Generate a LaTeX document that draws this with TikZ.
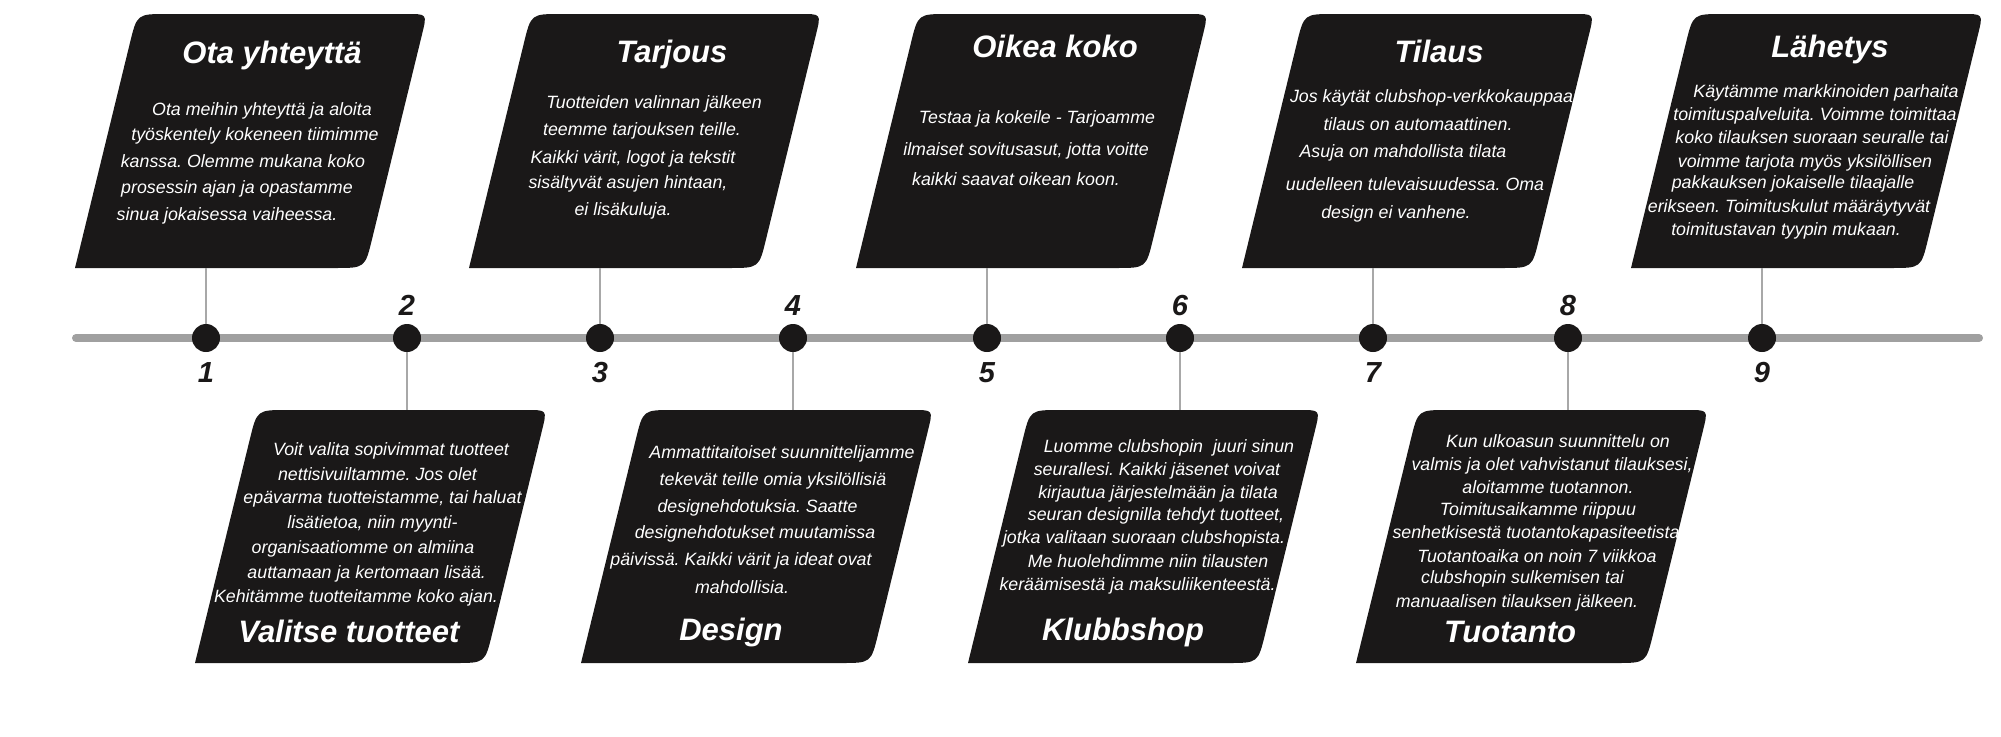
\documentclass[tikz,border=0pt]{standalone}
\usepackage{fontspec}
\setmainfont{Liberation Sans}
\usetikzlibrary{calc}
\frenchspacing
\definecolor{boxblack}{HTML}{1A1818}
\definecolor{linegray}{HTML}{A0A0A0}
\definecolor{conngray}{HTML}{A8A8A8}
\tikzset{
  body/.style={text=white, font=\fontsize{17.8}{20}\selectfont\itshape, inner sep=0pt, anchor=base},
  ttl/.style={text=white, font=\fontsize{31}{34}\selectfont\bfseries\itshape, inner sep=0pt, anchor=base},
  num/.style={text=boxblack, font=\fontsize{29}{32}\selectfont\bfseries\itshape, inner sep=0pt, anchor=base},
  dot/.style={circle, fill=boxblack, minimum size=28pt, inner sep=0pt},
  conn/.style={draw=conngray, line width=2.2pt},
  tline/.style={draw=linegray, line width=8pt, line cap=round},
  boxfill/.style={fill=boxblack},
}
\newcommand\drawstepbox[5]{%
  \coordinate (#1tl) at (#2);
  \coordinate (#1tr) at (#3);
  \coordinate (#1br) at (#4);
  \coordinate (#1bl) at (#5);
  \fill[boxfill] (#1bl) -- ($(#1tl)!30pt!(#1bl)$) .. controls (#1tl) .. ($(#1tl)!30pt!(#1tr)$)
     -- ($(#1tr)!20pt!(#1tl)$) .. controls (#1tr) .. ($(#1tr)!20pt!(#1br)$)
     -- ($(#1br)!30pt!(#1tr)$) .. controls (#1br) .. ($(#1br)!30pt!(#1bl)$) -- cycle;
}
\newcommand\topstepbox[2]{\drawstepbox{#1}{#2-69,14}{#2+221,14}{#2+159,268}{#2-131,268}\coordinate (#1a) at (#2,268);}
\newcommand\botstepbox[2]{\drawstepbox{#1}{#2-150,410}{#2+140,410}{#2+78,663}{#2-212,663}\coordinate (#1a) at (#2,410);}
\newcommand\txtline[4]{\node[body] (#1) at (#2,#3) {#4};}
\newcommand\ttlline[4]{\node[ttl] (#1) at (#2,#3) {#4};}

\begin{document}
\begin{tikzpicture}[x=1pt,y=-1pt]
\useasboundingbox (0,0) rectangle (2001,736);

% timeline
\coordinate (tlS) at (76,338);
\coordinate (tlE) at (1979,338);
\draw[tline] (tlS) -- (tlE);

% boxes
\topstepbox{b1}{206}
\topstepbox{b3}{600}
\topstepbox{b5}{987}
\topstepbox{b7}{1373}
\topstepbox{b9}{1762}
\botstepbox{b2}{407}
\botstepbox{b4}{793}
\botstepbox{b6}{1180}
\botstepbox{b8}{1568}

% dots
\node[dot] (d1) at (206,338) {};
\node[dot] (d2) at (407,338) {};
\node[dot] (d3) at (600,338) {};
\node[dot] (d4) at (793,338) {};
\node[dot] (d5) at (987,338) {};
\node[dot] (d6) at (1180,338) {};
\node[dot] (d7) at (1373,338) {};
\node[dot] (d8) at (1568,338) {};
\node[dot] (d9) at (1762,338) {};

% connectors
\draw[conn] (b1a) -- (d1);
\draw[conn] (b3a) -- (d3);
\draw[conn] (b5a) -- (d5);
\draw[conn] (b7a) -- (d7);
\draw[conn] (b9a) -- (d9);
\draw[conn] (d2) -- (b2a);
\draw[conn] (d4) -- (b4a);
\draw[conn] (d6) -- (b6a);
\draw[conn] (d8) -- (b8a);

% numbers
\node[num] (n1) at (206,382) {1};
\node[num] (n2) at (407,315) {2};
\node[num] (n3) at (600,382) {3};
\node[num] (n4) at (793,315) {4};
\node[num] (n5) at (987,382) {5};
\node[num] (n6) at (1180,315) {6};
\node[num] (n7) at (1373,382) {7};
\node[num] (n8) at (1568,315) {8};
\node[num] (n9) at (1762,382) {9};

% box 1
\ttlline{t1}{272}{63}{Ota yhteyttä}
\txtline{t1a}{262}{115}{Ota meihin yhteyttä ja aloita}
\txtline{t1b}{255}{140}{työskentely kokeneen tiimimme}
\txtline{t1c}{243}{167}{kanssa. Olemme mukana koko}
\txtline{t1d}{237}{193}{prosessin ajan ja opastamme}
\txtline{t1e}{227}{220}{sinua jokaisessa vaiheessa.}

% box 3
\ttlline{t3}{672}{62}{Tarjous}
\txtline{t3a}{654}{108}{Tuotteiden valinnan jälkeen}
\txtline{t3b}{642}{135}{teemme tarjouksen teille.}
\txtline{t3c}{633}{163}{Kaikki värit, logot ja tekstit}
\txtline{t3d}{628}{188}{sisältyvät asujen hintaan,}
\txtline{t3e}{623}{215}{ei lisäkuluja.}

% box 5
\ttlline{t5}{1055}{57}{Oikea koko}
\txtline{t5a}{1037}{123}{Testaa ja kokeile - Tarjoamme}
\txtline{t5b}{1026}{155}{ilmaiset sovitusasut, jotta voitte}
\txtline{t5c}{1016}{185}{kaikki saavat oikean koon.}

% box 7
\ttlline{t7}{1439}{62}{Tilaus}
\txtline{t7a}{1434}{102}{Jos käytät clubshop-verkkokauppaa,}
\txtline{t7b}{1418}{130}{tilaus on automaattinen.}
\txtline{t7c}{1403}{157}{Asuja on mahdollista tilata}
\txtline{t7d}{1415}{190}{uudelleen tulevaisuudessa. Oma}
\txtline{t7e}{1396}{218}{design ei vanhene.}

% box 9
\ttlline{t9}{1830}{57}{Lähetys}
\txtline{t9a}{1826}{97}{Käytämme markkinoiden parhaita}
\txtline{t9b}{1815}{120}{toimituspalveluita. Voimme toimittaa}
\txtline{t9c}{1812}{143}{koko tilauksen suoraan seuralle tai}
\txtline{t9d}{1805}{167}{voimme tarjota myös yksilöllisen}
\txtline{t9e}{1793}{188}{pakkauksen jokaiselle tilaajalle}
\txtline{t9f}{1789}{212}{erikseen. Toimituskulut määräytyvät}
\txtline{t9g}{1786}{235}{toimitustavan tyypin mukaan.}

% box 2
\txtline{t2a}{391}{455}{Voit valita sopivimmat tuotteet}
\txtline{t2b}{377.5}{480}{nettisivuiltamme. Jos olet}
\txtline{t2c}{382.5}{503}{epävarma tuotteistamme, tai haluat}
\txtline{t2d}{372.5}{528}{lisätietoa, niin myynti-}
\txtline{t2e}{363}{553}{organisaatiomme on almiina}
\txtline{t2f}{366.7}{578}{auttamaan ja kertomaan lisää.}
\txtline{t2g}{356}{602}{Kehitämme tuotteitamme koko ajan.}
\ttlline{t2}{349}{642}{Valitse tuotteet}

% box 4
\txtline{t4a}{782}{458}{Ammattitaitoiset suunnittelijamme}
\txtline{t4b}{773}{485}{tekevät teille omia yksilöllisiä}
\txtline{t4c}{757.5}{512}{designehdotuksia. Saatte}
\txtline{t4d}{755}{538}{designehdotukset muutamissa}
\txtline{t4e}{741}{565}{päivissä. Kaikki värit ja ideat ovat}
\txtline{t4f}{742}{593}{mahdollisia.}
\ttlline{t4}{731}{640}{Design}

% box 6
\txtline{t6a}{1169}{452}{Luomme clubshopin\ \ juuri sinun}
\txtline{t6b}{1157}{475}{seurallesi. Kaikki jäsenet voivat}
\txtline{t6c}{1158}{498}{kirjautua järjestelmään ja tilata}
\txtline{t6d}{1156}{520}{seuran designilla tehdyt tuotteet,}
\txtline{t6e}{1144}{543}{jotka valitaan suoraan clubshopista.}
\txtline{t6f}{1148}{567}{Me huolehdimme niin tilausten}
\txtline{t6g}{1137.5}{590}{keräämisestä ja maksuliikenteestä.}
\ttlline{t6}{1123}{640}{Klubbshop}

% box 8
\txtline{t8a}{1558}{447}{Kun ulkoasun suunnittelu on}
\txtline{t8b}{1552}{470}{valmis ja olet vahvistanut tilauksesi,}
\txtline{t8c}{1548}{493}{aloitamme tuotannon.}
\txtline{t8d}{1538}{515}{Toimitusaikamme riippuu}
\txtline{t8e}{1536}{538}{senhetkisestä tuotantokapasiteetista}
\txtline{t8f}{1537}{562}{Tuotantoaika on noin 7 viikkoa}
\txtline{t8g}{1522.5}{583}{clubshopin sulkemisen tai}
\txtline{t8h}{1517}{607}{manuaalisen tilauksen jälkeen.}
\ttlline{t8}{1510}{642}{Tuotanto}
\end{tikzpicture}
\end{document}
